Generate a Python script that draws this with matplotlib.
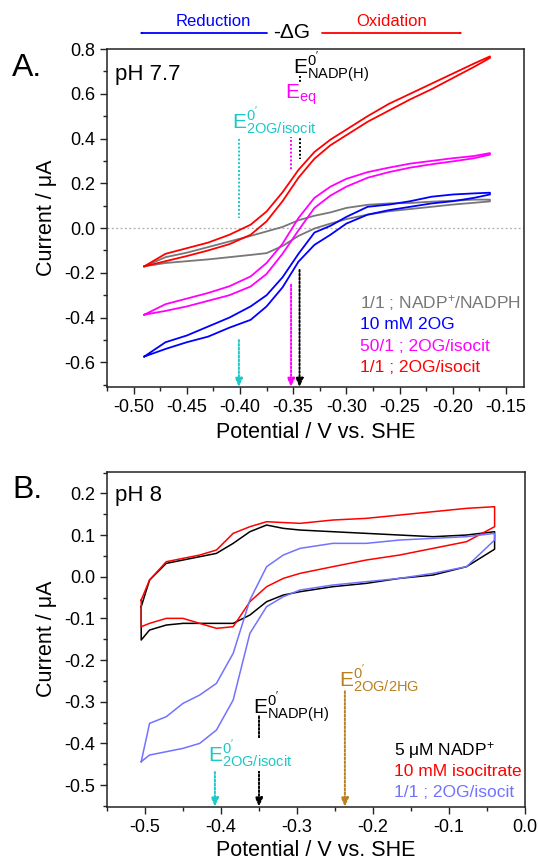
import matplotlib
matplotlib.use('Agg')
import matplotlib.pyplot as plt
from matplotlib.patches import FancyArrowPatch
from matplotlib.ticker import MultipleLocator, FormatStrFormatter

plt.rcParams['font.family'] = ['Liberation Sans', 'DejaVu Sans']
plt.rcParams['axes.unicode_minus'] = False
plt.rcParams['mathtext.default'] = 'regular'

# ---- panel A (pH 7.7), CV loops: upper branch and lower branch on the same potential grid
pot_a = [-0.49, -0.47, -0.45, -0.43, -0.41, -0.39, -0.375, -0.36, -0.345, -0.33,
         -0.315, -0.30, -0.28, -0.26, -0.24, -0.22, -0.20, -0.18, -0.165]
red_up = [-0.171, -0.115, -0.09, -0.065, -0.03, 0.015, 0.074, 0.16, 0.26, 0.34,
          0.395, 0.44, 0.5, 0.555, 0.6, 0.645, 0.69, 0.735, 0.767]
red_dn = [-0.171, -0.148, -0.125, -0.1, -0.072, -0.03, 0.03, 0.12, 0.225, 0.31,
          0.37, 0.415, 0.475, 0.525, 0.575, 0.62, 0.67, 0.72, 0.76]
mag_up = [-0.387, -0.34, -0.315, -0.29, -0.26, -0.216, -0.156, -0.07, 0.045, 0.135,
          0.185, 0.22, 0.25, 0.27, 0.288, 0.3, 0.312, 0.322, 0.335]
mag_dn = [-0.387, -0.37, -0.35, -0.325, -0.3, -0.261, -0.205, -0.115, -0.01, 0.09,
          0.145, 0.185, 0.225, 0.25, 0.27, 0.285, 0.298, 0.312, 0.328]
blue_up = [-0.574, -0.51, -0.48, -0.44, -0.40, -0.35, -0.30, -0.22, -0.115, -0.02,
           0.01, 0.05, 0.095, 0.105, 0.12, 0.14, 0.15, 0.155, 0.158]
blue_dn = [-0.574, -0.54, -0.51, -0.485, -0.445, -0.41, -0.35, -0.265, -0.15, -0.075,
           -0.03, 0.02, 0.06, 0.08, 0.095, 0.11, 0.12, 0.135, 0.15]
gray_up = [-0.171, -0.13, -0.11, -0.085, -0.06, -0.035, -0.015, 0.005, 0.035, 0.055,
           0.07, 0.09, 0.104, 0.11, 0.112, 0.118, 0.122, 0.127, 0.127]
gray_dn = [-0.171, -0.156, -0.148, -0.14, -0.13, -0.12, -0.112, -0.08, -0.035, -0.002,
           0.02, 0.04, 0.06, 0.075, 0.085, 0.095, 0.105, 0.113, 0.119]
labels_a = ['1/1 ; NADP$^{+}$/NADPH', '10 mM 2OG', '50/1 ; 2OG/isocit', '1/1 ; 2OG/isocit']

# ---- panel B (pH 8)
pot_b = [-0.505, -0.494, -0.472, -0.45, -0.428, -0.406, -0.384, -0.362, -0.34, -0.318,
         -0.296, -0.253, -0.209, -0.165, -0.121, -0.077, -0.04]
blk_up = [-0.072, -0.008, 0.032, 0.04, 0.048, 0.056, 0.08, 0.108, 0.124, 0.116,
          0.112, 0.108, 0.104, 0.1, 0.096, 0.1, 0.108]
blk_dn = [-0.152, -0.128, -0.116, -0.112, -0.112, -0.112, -0.112, -0.092, -0.06, -0.044,
          -0.036, -0.024, -0.016, -0.004, 0.004, 0.024, 0.066]
rb_up = [-0.056, -0.008, 0.036, 0.044, 0.052, 0.064, 0.104, 0.12, 0.132, 0.13,
         0.128, 0.136, 0.14, 0.148, 0.156, 0.164, 0.168]
rb_dn = [-0.12, -0.112, -0.1, -0.1, -0.112, -0.124, -0.12, -0.06, -0.024, -0.004,
         0.008, 0.024, 0.04, 0.052, 0.068, 0.084, 0.12]
pur_up = [-0.444, -0.352, -0.336, -0.304, -0.284, -0.256, -0.184, -0.056, 0.024, 0.052,
          0.068, 0.08, 0.08, 0.088, 0.092, 0.096, 0.104]
pur_dn = [-0.444, -0.428, -0.42, -0.412, -0.4, -0.368, -0.296, -0.136, -0.072, -0.048,
          -0.032, -0.02, -0.012, -0.004, 0.008, 0.024, 0.088]
labels_b = ['5 $\\mu$M NADP$^{+}$', '10 mM isocitrate', '1/1 ; 2OG/isocit']

# formal potentials (V vs SHE)
e_nadp_a, e_eq_a, e_isocit_a = -0.344, -0.352, -0.401
e_2hg_b, e_nadp_b, e_isocit_b = -0.237, -0.35, -0.408

CYAN = '#1cc8c8'
BROWN = '#b8801e'
PURPLE = '#7272ff'

W, H = 538, 863
fig = plt.figure(figsize=(W / 100, H / 100), dpi=100)


def loop(x, up, dn):
    return list(x) + list(x[::-1]) + [x[0]], list(up) + list(dn[::-1]) + [up[0]]


def style_axes(ax):
    for s in ax.spines.values():
        s.set_linewidth(1.1)
        s.set_color('#222222')
    ax.tick_params(which='both', direction='out', top=False, right=False,
                   labelsize=13, width=1, color='#222222')
    ax.tick_params(which='major', length=5)
    ax.tick_params(which='minor', length=3)


def marker_line(ax, x, y0, y1, color, arrow=False):
    if arrow:
        ax.annotate('', xy=(x, y1), xytext=(x, y0),
                    arrowprops=dict(arrowstyle='-|>,head_width=0.22,head_length=0.5',
                                    color=color, ls=(0, (1, 1)), lw=1.4,
                                    shrinkA=0, shrinkB=0), zorder=1)
    else:
        ax.plot([x, x], [y0, y1], color=color, ls=(0, (1, 1)), lw=1.4, zorder=1)


# ---------------- panel A
axA = fig.add_axes([107 / W, 1 - 387 / H, 417 / W, 338 / H])
axA.axhline(0, color='#aaaaaa', ls=(0, (1.5, 2)), lw=0.9, zorder=0)
for up, dn, c in [(gray_up, gray_dn, '#777777'), (blue_up, blue_dn, '#0000ff'),
                  (mag_up, mag_dn, '#ff00ff'), (red_up, red_dn, '#ff0000')]:
    xs, ys = loop(pot_a, up, dn)
    axA.plot(xs, ys, color=c, lw=1.3, zorder=3)

axA.set_xlim(-0.525, -0.133)
axA.set_ylim(-0.71, 0.8)
axA.xaxis.set_major_locator(MultipleLocator(0.05))
axA.xaxis.set_minor_locator(MultipleLocator(0.025))
axA.yaxis.set_major_locator(MultipleLocator(0.2))
axA.yaxis.set_minor_locator(MultipleLocator(0.1))
axA.xaxis.set_major_formatter(FormatStrFormatter('%.2f'))
axA.yaxis.set_major_formatter(FormatStrFormatter('%.1f'))
style_axes(axA)
axA.set_xlabel('Potential / V vs. SHE', fontsize=15.5)
axA.set_ylabel('Current / \u03bcA', fontsize=15.5)
axA.xaxis.set_label_coords(0.5, -0.105)
axA.yaxis.set_label_coords(-0.12, 0.5)

# reference potentials
marker_line(axA, e_nadp_a, 0.68, 0.31, 'black')
marker_line(axA, e_nadp_a, -0.187, -0.71, 'black', arrow=True)
marker_line(axA, e_eq_a, 0.55, 0.255, '#ff00ff')
marker_line(axA, e_eq_a, -0.253, -0.71, '#ff00ff', arrow=True)
marker_line(axA, e_isocit_a, 0.415, 0.045, CYAN)
marker_line(axA, e_isocit_a, -0.5, -0.71, CYAN, arrow=True)

wbox = dict(facecolor='white', edgecolor='none', pad=0.3)
axA.text(-0.35, 0.69, r"$E^{0'}_{NADP(H)}$", fontsize=15, color='black', zorder=4)
axA.text(-0.358, 0.58, r"$E_{eq}$", fontsize=15, color='#ff00ff', zorder=4, bbox=wbox)
axA.text(-0.4075, 0.447, r"$E^{0'}_{2OG/isocit}$", fontsize=15, color=CYAN, zorder=4,
         bbox=wbox)
axA.text(0.02, 0.955, 'pH 7.7', transform=axA.transAxes, fontsize=16, va='top')

for i, (lab, c) in enumerate(zip(labels_a, ['#777777', '#0000ff', '#ff00ff', '#ff0000'])):
    axA.text(0.606, 0.248 - i * 0.0635, lab, transform=axA.transAxes, fontsize=12.5,
             color=c, va='center')

# ---------------- panel B
axB = fig.add_axes([107 / W, 1 - 806.7 / H, 418 / W, 335 / H])
for up, dn, c in [(blk_up, blk_dn, 'black'), (rb_up, rb_dn, '#ff0000'),
                  (pur_up, pur_dn, PURPLE)]:
    xs, ys = loop(pot_b, up, dn)
    axB.plot(xs, ys, color=c, lw=1.1, zorder=3)

axB.set_xlim(-0.55, 0.0)
axB.set_ylim(-0.552, 0.252)
axB.xaxis.set_major_locator(MultipleLocator(0.1))
axB.xaxis.set_minor_locator(MultipleLocator(0.05))
axB.yaxis.set_major_locator(MultipleLocator(0.1))
axB.yaxis.set_minor_locator(MultipleLocator(0.05))
axB.xaxis.set_major_formatter(FormatStrFormatter('%.1f'))
axB.yaxis.set_major_formatter(FormatStrFormatter('%.1f'))
style_axes(axB)
axB.set_xlabel('Potential / V vs. SHE', fontsize=15.5)
axB.set_ylabel('Current / \u03bcA', fontsize=15.5)
axB.xaxis.set_label_coords(0.5, -0.098)
axB.yaxis.set_label_coords(-0.12, 0.5)

marker_line(axB, e_2hg_b, -0.275, -0.552, BROWN, arrow=True)
marker_line(axB, e_nadp_b, -0.335, -0.552, 'black', arrow=True)
marker_line(axB, e_isocit_b, -0.45, -0.552, CYAN, arrow=True)
axB.text(-0.245, -0.264, r"$E^{0'}_{2OG/2HG}$", fontsize=15, color=BROWN, zorder=4)
axB.text(-0.358, -0.329, r"$E^{0'}_{NADP(H)}$", fontsize=15, color='black', zorder=4)
axB.text(-0.417, -0.444, r"$E^{0'}_{2OG/isocit}$", fontsize=15, color=CYAN, zorder=4,
         bbox=wbox)
axB.text(0.02, 0.96, 'pH 8', transform=axB.transAxes, fontsize=16, va='top')

for i, (lab, c) in enumerate(zip(labels_b, ['black', '#ff0000', PURPLE])):
    axB.text(0.687, 0.169 - i * 0.064, lab, transform=axB.transAxes, fontsize=12.5,
             color=c, va='center')

# ---------------- header and panel letters
fig.text(213 / W, 1 - 21 / H, 'Reduction', color='#0000ff', fontsize=12,
         ha='center', va='center')
fig.text(392 / W, 1 - 21 / H, 'Oxidation', color='#ff0000', fontsize=12,
         ha='center', va='center')
fig.text(292 / W, 1 - 33 / H, '-\u0394G', fontsize=15, ha='center', va='center')
for x0, x1, c in [(267, 139, '#0000ff'), (322, 463, '#ff0000')]:
    fig.add_artist(FancyArrowPatch((x0 / W, 1 - 33 / H), (x1 / W, 1 - 33 / H),
                                   transform=fig.transFigure, color=c, lw=1.3,
                                   arrowstyle='-|>,head_width=0.2,head_length=0.5',
                                   shrinkA=0, shrinkB=0))
fig.text(12 / W, 1 - 68 / H, 'A.', fontsize=23, va='center')
fig.text(12 / W, 1 - 490 / H, 'B.', fontsize=23, va='center')

fig.savefig('out.png', dpi=100)
